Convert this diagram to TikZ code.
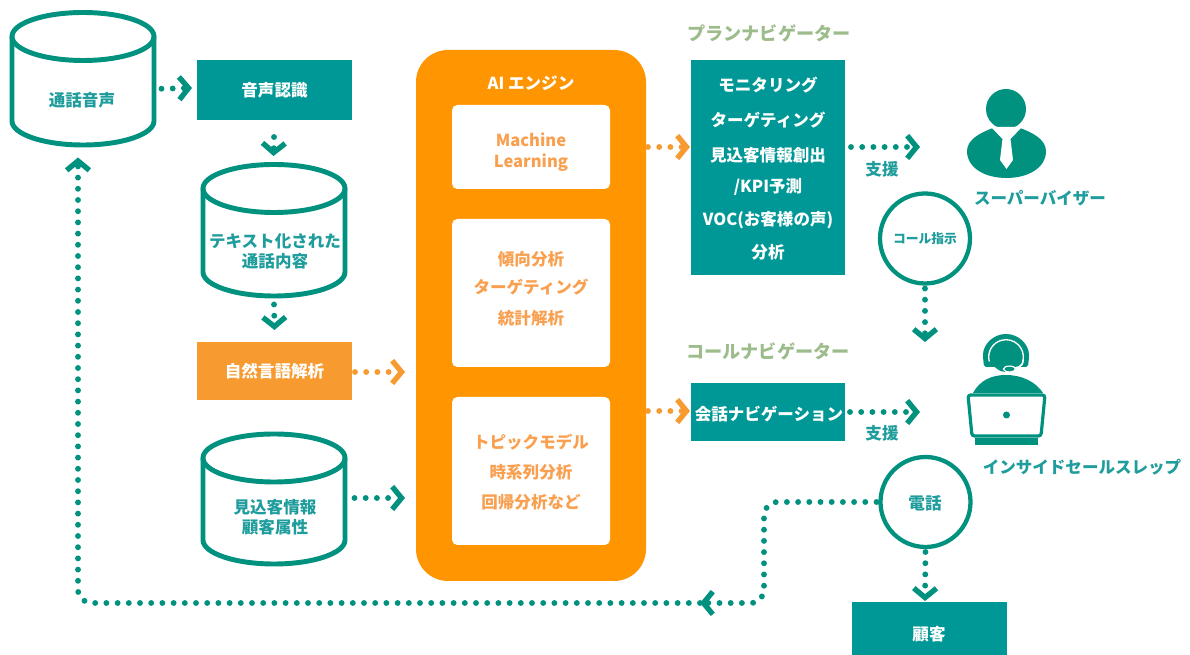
\documentclass[tikz,border=0pt]{standalone}
\usepackage{fontspec}
\setmainfont{Noto Sans CJK JP}
\usetikzlibrary{arrows.meta}
\definecolor{tealbox}{HTML}{009896}
\definecolor{tealline}{HTML}{00917F}
\definecolor{tealtext}{HTML}{1F9C9C}
\definecolor{orangebig}{HTML}{FF9500}
\definecolor{orangebar}{HTML}{F79A30}
\definecolor{orangetext}{HTML}{F9A050}
\definecolor{greentext}{HTML}{9DBC8C}
\tikzset{
 x=0.75pt,y=-0.75pt,
 txt/.style={inner sep=0pt,outer sep=0pt,align=center,font=\bfseries\fontsize{12.4}{15}\selectfont},
 label teal/.style={txt,text=tealtext},
 label white/.style={txt,text=white},
 label orange/.style={txt,text=orangetext},
 label green/.style={txt,text=greentext,font=\bfseries\fontsize{13.6}{16}\selectfont},
 sized/.style 2 args={minimum width=#1*0.75pt,minimum height=#2*0.75pt,inner sep=0pt,outer sep=0pt},
 cylline/.style={draw=tealline,line width=3.7pt},
 ringnode/.style={circle,draw=tealline,fill=white,line width=3.2pt,sized={90}{90},align=center},
 dots/.style={line width=4.4pt,line cap=round,dash pattern=on 0pt off 8.4pt},
 dotarrow/.style={dots,draw=#1,-{Straight Barb[length=7pt,width=17pt,line width=4pt,color=#1]}},
 inner panel/.style={fill=white,rounded corners=4pt},
}
\newcommand{\cyl}[4]{% name, cx, top centre y, bottom centre y
 \pgfmathsetmacro{\cya}{(#3+#4)/2}
 \pgfmathsetmacro{\hgt}{#4-#3+48+5}
 \node[sized={147}{\hgt}] (#1) at (#2,\cya) {};
 \draw[cylline] (#2,#3) ellipse [x radius=53.25pt,y radius=18pt];
 \draw[cylline] ({#2-71},#3) -- ({#2-71},#4) arc [start angle=180,end angle=360,x radius=53.25pt,y radius=18pt] -- ({#2+71},#3);
}
\begin{document}
\begin{tikzpicture}
\useasboundingbox (0,0) rectangle (1190,655);
\clip (0,0) rectangle (1190,655);

% cylinders
\cyl{voice}{83}{36.5}{121}
\node[label teal] at (82,100) {通話音声};
\cyl{textdb}{274}{188.5}{272}
\node[label teal] at (275,251) {テキスト化された\\通話内容};
\cyl{custdb}{274}{458}{540}
\node[label teal] at (275,517) {見込客情報\\顧客属性};

% left boxes
\node[sized={155}{60},fill=tealbox,label white] (asr) at (274.5,90) {音声認識};
\node[sized={155}{58},fill=orangebar,label white] (nlp) at (274.5,371) {自然言語解析};

% AI engine
\node[sized={230}{531},fill=orangebig,rounded corners=24pt] (engine) at (531,315.5) {};
\node[label white] at (531,83) {AI エンジン};
\node[sized={158}{84},inner panel] (p1) at (531,147) {};
\node[label orange] at (531,140) {Machine};
\node[label orange] at (531,163) {Learning};
\node[sized={158}{148},inner panel] (p2) at (531,293) {};
\node[label orange] at (531,259) {傾向分析};
\node[label orange] at (531,287) {ターゲティング};
\node[label orange] at (531,318) {統計解析};
\node[sized={158}{148},inner panel] (p3) at (531,471) {};
\node[label orange] at (531,442) {トピックモデル};
\node[label orange] at (531,472) {時系列分析};
\node[label orange] at (531,502) {回帰分析など};

% navigators
\node[label green] at (769,33) {プランナビゲーター};
\node[label green] at (768,351) {コールナビゲーター};
\node[sized={154}{215},fill=tealbox] (plan) at (768,167.5) {};
\node[label white] at (768,85) {モニタリング};
\node[label white] at (768,120) {ターゲティング};
\node[label white] at (768,155) {見込客情報創出};
\node[label white] at (768,187) {/KPI予測};
\node[label white] at (768,220) {VOC(お客様の声)};
\node[label white] at (768,252) {分析};
\node[sized={154}{58},fill=tealbox] (call) at (768,412) {};
\node[label white] at (769,414) {会話ナビゲーション};

% supervisor icon
\node[circle,fill=tealline,sized={40}{40}] (sup) at (1006,109) {};
\fill[tealline] (1006.5,178) .. controls (985,178) and (967,168) .. (967,151)
  .. controls (967,139) and (982,132) .. (993,128) -- (1020,128)
  .. controls (1031,132) and (1046,139) .. (1046,151)
  .. controls (1046,168) and (1028,178) .. (1006.5,178) -- cycle;
\fill[white] (991,127) -- (1022,127) -- (1010.5,139) -- (1013,160) -- (1006.5,169) -- (1000,160) -- (1002.5,139) -- cycle;
\node[label teal] at (1040,198) {スーパーバイザー};

% operator icon
\fill[tealline,rounded corners=1.5pt] (984,367) -- (983,357) arc [start angle=180,end angle=0,radius=17.25pt] -- (1028,367) -- cycle;
\draw[white,line width=1pt] (989.3,361.5) arc [start angle=195,end angle=-10,radius=13pt] .. controls (1023,368) and (1016,369) .. (1009,369);
\fill[tealline] (1006,357) circle [radius=11.2pt];
\draw[white,line width=1pt] (1023,360) .. controls (1023,367) and (1017,368) .. (1011,368);
\draw[white,fill=tealline,line width=0.9pt] (1009.5,369) ellipse [x radius=4.5pt,y radius=2.2pt];
\fill[tealline] (973,393) .. controls (980,380) and (992,375) .. (1006,375) .. controls (1022,375) and (1036,382) .. (1043,393) -- cycle;
\draw[tealline,fill=white,line width=2.4pt,rounded corners=2pt] (968,395) -- (1045,395) -- (1041,436) -- (972,436) -- cycle;
\fill[tealline] (975,438) -- (1038,438) -- (1038,445) -- (975,445) -- cycle;
\node[circle,fill=tealline,sized={7}{7}] (rep) at (1006.5,415) {};
\node[label teal] at (1082,467) {インサイドセールスレップ};

% rings
\node[ringnode] (order) at (925,238.5) {};
\node[label teal,font=\bfseries\fontsize{9.6}{12}\selectfont] at (925,239) {コール指示};
\node[ringnode] (phone) at (925.5,502) {};
\node[label teal] at (925,503) {電話};

% customer
\node[sized={155}{60},fill=tealbox,anchor=north] (cust) at (929.5,602) {};
\node[label white] at (929,634) {顧客};

% support labels
\node[label teal] at (882,169) {支援};
\node[label teal] at (882,433) {支援};

% connectors
\draw[dotarrow=tealline] ([shift={(5,10)}]voice.east) -- ([shift={(-5,-2)}]asr.west);
\draw[dotarrow=tealline] ([shift={(-0.5,17)}]asr.south) -- ([shift={(-0.5,-6)}]textdb.north);
\draw[dotarrow=tealline] ([shift={(0,6)}]textdb.south) -- ([shift={(0,-12)}]nlp.north);
\draw[dotarrow=orangebar] ([shift={(3,1)}]nlp.east) -- ([shift={(-11,56.5)}]engine.west);
\draw[dotarrow=tealline] ([shift={(7,-1)}]custdb.east) -- ([shift={(-11,182.5)}]engine.west);
\draw[dotarrow=orangebar] ([shift={(2,-168.5)}]engine.east) -- ([shift={(-1,-20.5)}]plan.west);
\draw[dotarrow=orangebar] ([shift={(2,95.5)}]engine.east) -- ([shift={(-1,-1)}]call.west);
\draw[dotarrow=tealline] ([shift={(6,-20.5)}]plan.east) -- ([shift={(-66,38)}]sup.west);
\draw[dotarrow=tealline] ([shift={(5,0)}]call.east) -- ([shift={(-83,-3)}]rep.west);
\draw[dotarrow=tealline] ([shift={(0,5)}]order.south) -- ([shift={(0,-69.5)}]order.south |- rep.north);
\draw[dotarrow=tealline] ([shift={(0,5)}]phone.south) -- ([shift={(-0.5,-1)}]phone.south |- cust.north);
\coordinate (mid) at (700,603);
\draw[dotarrow=tealline,rounded corners=10pt] ([shift={(-4,0)}]phone.west) -- (764,502) -- (764,603) -- (mid);
\draw[dots,draw=tealline,rounded corners=10pt,-{Straight Barb[length=7pt,width=17pt,line width=4pt,color=tealline]}] (mid) -- (78,603) -- ([shift={(-5,10)}]voice.south);
\end{tikzpicture}
\end{document}
